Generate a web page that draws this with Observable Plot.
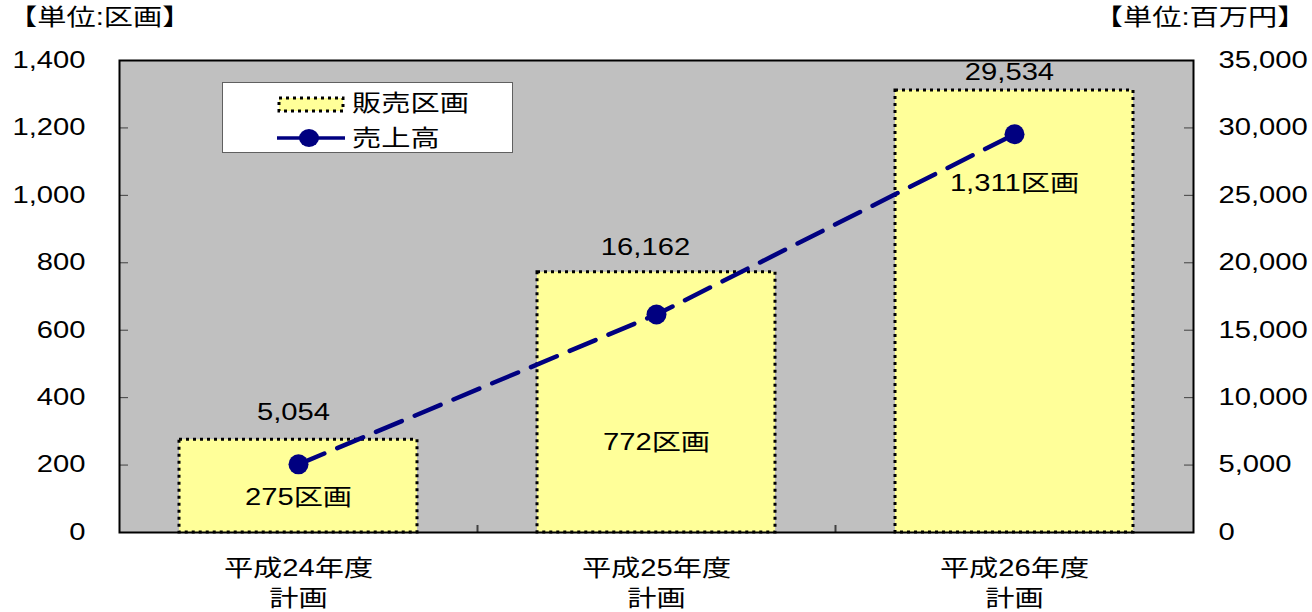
<!DOCTYPE html>
<html><head><meta charset="utf-8">
<script src="https://cdn.jsdelivr.net/npm/d3@7"></script>
<script src="https://cdn.jsdelivr.net/npm/@observablehq/plot@0.6"></script>
<style>
body{margin:0;background:#fff;}
#wrap{position:relative;width:1312px;height:612px;font-family:'Liberation Sans','Noto Sans CJK JP',sans-serif;color:#000;}
.t{position:absolute;font-size:23px;white-space:nowrap;line-height:1;}
</style></head><body><div id="wrap"></div>
<script>
// ---- data ----
const categories = ["平成24年度\n計画", "平成25年度\n計画", "平成26年度\n計画"];
const lots = [275, 772, 1311];          // 販売区画 (left axis, 区画)
const sales = [5054, 16162, 29534];     // 売上高 (right axis, 百万円)
const leftTicks = [0, 200, 400, 600, 800, 1000, 1200, 1400];
const rightTicks = [0, 5000, 10000, 15000, 20000, 25000, 30000, 35000];
const seriesNames = ["販売区画", "売上高"];
const unitLeft = "【単位:区画】";
const unitRight = "【単位:百万円】";
const lotSuffix = "区画";

// ---- layout ----
const W = 1312, H = 612, ml = 119, mr = 119, mt = 60, mb = 80;
const SX = 1.27, FS = 23;
const plotW = W - ml - mr, plotH = H - mt - mb;
const step = plotW / categories.length;
const ratio = rightTicks[rightTicks.length - 1] / leftTicks[leftTicks.length - 1];
const fmt = d3.format(",");
const data = categories.map((c, i) => ({c, lots: lots[i], sales: sales[i], s: sales[i] / ratio}));
const barLabelDy = [58, 170, 93];
const lineLabelDy = [-52, -67, -62];
const lineLabelDx = [-5, -11, -5];
const NAVY = "#000080";

const marks = [
  Plot.frame({fill: "#c0c0c0"}),
  Plot.barY(data, {x: "c", y: "lots", fill: "#ffff99", stroke: "black", strokeWidth: 3, strokeDasharray: "3,4"}),
  Plot.tickY(leftTicks.slice(1, -1), {y: d => d, stroke: "#404040", strokeWidth: 1, insetRight: plotW - 9}),
  Plot.tickY(leftTicks.slice(1, -1), {y: d => d, stroke: "#404040", strokeWidth: 1, insetLeft: plotW - 9}),
  Plot.tickX(categories.slice(1), {x: d => d, dx: -step / 2, stroke: "#404040", strokeWidth: 2, insetTop: plotH - 7}),
  Plot.line(data, {x: "c", y: "s", stroke: NAVY, strokeWidth: 4.5, strokeDasharray: "28,14"}),
  Plot.dot(data, {x: "c", y: "s", r: 10, fill: NAVY, stroke: "none"})
];
data.forEach((d, i) => {
  marks.push(Plot.text([d], {x: "c", y: "lots", text: d => fmt(d.lots) + lotSuffix, dy: barLabelDy[i], fill: "black"}));
  marks.push(Plot.text([d], {x: "c", y: "s", text: d => fmt(d.sales), dy: lineLabelDy[i], dx: lineLabelDx[i], fill: "black"}));
});
marks.push(
  Plot.frame({stroke: "black", strokeWidth: 2}),
  Plot.axisY(leftTicks, {anchor: "left", tickSize: 0, tickPadding: 34, tickFormat: fmt}),
  Plot.axisY(leftTicks, {anchor: "right", tickSize: 0, tickPadding: 25, tickFormat: d => fmt(d * ratio)}),
  Plot.axisX({anchor: "bottom", tickSize: 0, tickPadding: 22, lineHeight: 1.3})
);

const chart = Plot.plot({
  width: W, height: H, marginLeft: ml, marginRight: mr, marginTop: mt, marginBottom: mb,
  style: {fontFamily: "'Liberation Sans','Noto Sans CJK JP',sans-serif", fontSize: FS + "px", color: "black", background: "transparent", overflow: "visible"},
  x: {domain: categories, paddingInner: 0.335, paddingOuter: 0.1675, align: 0.5, label: null},
  y: {domain: [0, 1400], label: null},
  marks
});
const wrap = document.getElementById("wrap");
wrap.appendChild(chart);
chart.style.position = "absolute"; chart.style.left = "0"; chart.style.top = "0";

// horizontal stretch of every text around its anchor point (wrap in a scaled <g>)
const svgNS = "http://www.w3.org/2000/svg";
Array.from(chart.querySelectorAll("text")).forEach(t => {
  const r = t.getBoundingClientRect();
  if (!r.width) return;
  const anchor = getComputedStyle(t).textAnchor;
  const sx = anchor === "end" ? r.right : anchor === "middle" ? (r.left + r.right) / 2 : r.left;
  const sy = (r.top + r.bottom) / 2;
  const parent = t.parentNode;
  const p = chart.createSVGPoint(); p.x = sx; p.y = sy;
  const q = p.matrixTransform(parent.getScreenCTM().inverse());
  const g = document.createElementNS(svgNS, "g");
  g.setAttribute("transform", `translate(${q.x},${q.y}) scale(${SX},1) translate(${-q.x},${-q.y})`);
  parent.insertBefore(g, t); g.appendChild(t);
});

function addText(txt, left, top, origin, right) {
  const el = document.createElement("div");
  el.className = "t";
  el.textContent = txt;
  if (right != null) { el.style.right = right + "px"; } else { el.style.left = left + "px"; }
  el.style.top = top + "px";
  el.style.transform = `scaleX(${SX})`;
  el.style.transformOrigin = origin;
  wrap.appendChild(el);
  return el;
}
addText(unitLeft, 8, 6, "left center");
addText(unitRight, null, 6, "right center", 6);

// legend
const lg = document.createElement("div");
lg.style.cssText = "position:absolute;left:222px;top:82px;width:291px;height:71px;background:#fff;border:1px solid #606060;box-sizing:border-box;";
wrap.appendChild(lg);
const sw = document.createElementNS(svgNS, "svg");
sw.setAttribute("width", 291); sw.setAttribute("height", 71);
sw.style.cssText = "position:absolute;left:-1px;top:-1px;";
sw.innerHTML = `<rect x="57" y="16" width="64" height="13" fill="#ffff99" stroke="black" stroke-width="3" stroke-dasharray="3,4"/>
<line x1="55" x2="123" y1="56" y2="56" stroke="${NAVY}" stroke-width="3.5"/>
<ellipse cx="87" cy="56" rx="10" ry="9" fill="${NAVY}"/>`;
lg.appendChild(sw);
addText(seriesNames[0], 352, 92, "left center");
addText(seriesNames[1], 352, 127, "left center");
</script></body></html>
